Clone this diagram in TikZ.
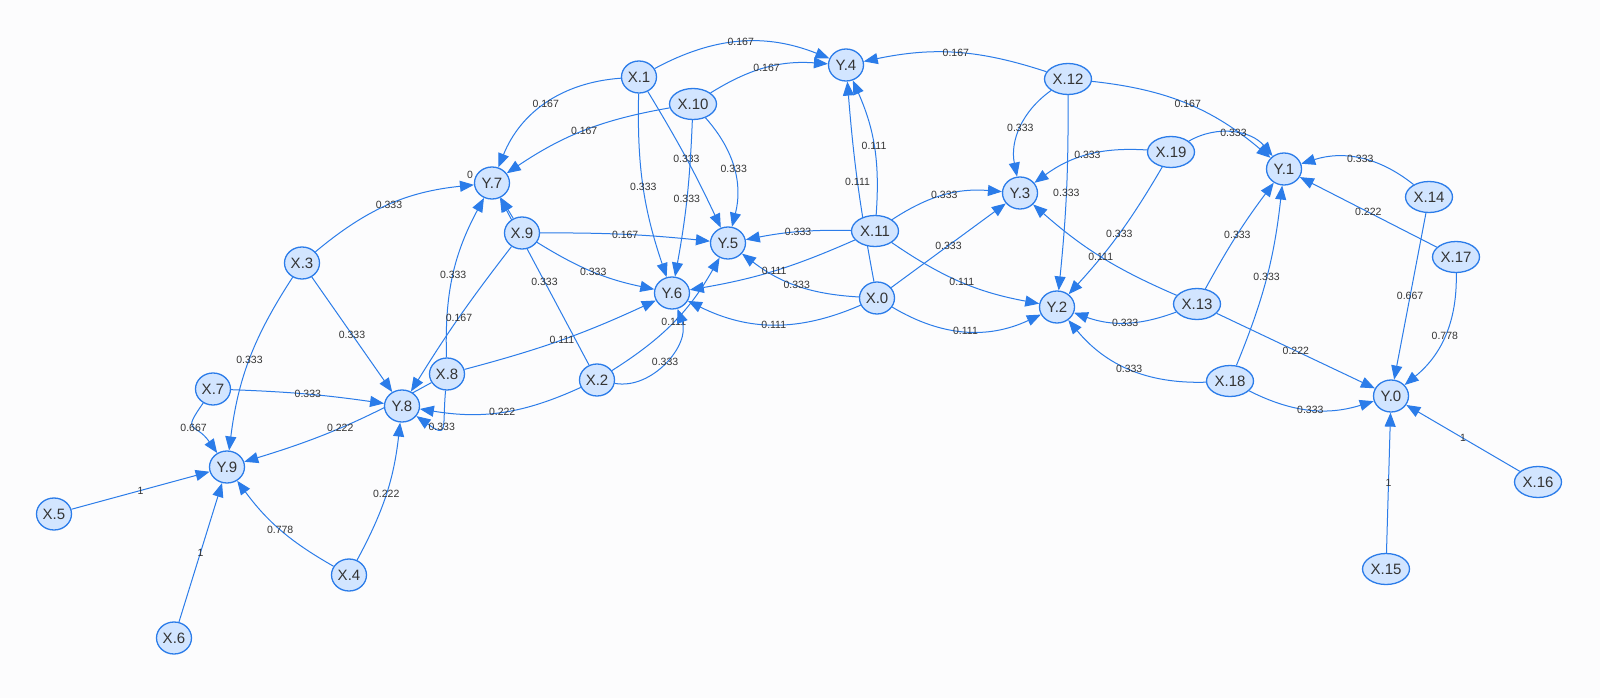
\documentclass[tikz,border=0pt]{standalone}
\usepackage{fontspec}
\setmainfont{Liberation Sans}
\usetikzlibrary{shapes.geometric,arrows.meta}
\pgfdeclarelayer{bg}
\pgfsetlayers{bg,main}
\definecolor{nodefill}{RGB}{210,229,255}
\definecolor{nodeborder}{RGB}{43,124,233}
\definecolor{edgecol}{RGB}{43,124,233}
\definecolor{labcol}{RGB}{52,52,52}
\definecolor{bgcol}{RGB}{252,252,253}
\tikzset{
  nd/.style={ellipse, draw=nodeborder, fill=nodefill, line width=1.3pt, inner sep=0pt,
    minimum width=35pt, minimum height=32pt, font=\fontsize{15}{18}\selectfont, text=labcol},
  ndw/.style={nd, minimum width=47pt, minimum height=31pt},
  edge/.style={draw=edgecol, line width=1pt, -{Triangle[length=14pt,width=11pt]}},
  lab/.style={font=\fontsize{10.5}{12}\selectfont, text=labcol, inner sep=0.5pt}
}
\begin{document}
\begin{tikzpicture}[x=1pt,y=-1pt]
\begin{pgfonlayer}{bg}
\fill[bgcol] (0,0) rectangle (1600,698);
\end{pgfonlayer}
\useasboundingbox (0,0) rectangle (1600,698);
% X nodes
\node[nd]  (X0)  at (877,298) {X.0};
\node[nd]  (X1)  at (639,77)  {X.1};
\node[nd]  (X2)  at (597,380) {X.2};
\node[nd]  (X3)  at (302,263) {X.3};
\node[nd]  (X4)  at (349,575) {X.4};
\node[nd]  (X5)  at (54,514)  {X.5};
\node[nd]  (X6)  at (174,638) {X.6};
\node[nd]  (X7)  at (213,389) {X.7};
\node[nd]  (X8)  at (447,374) {X.8};
\node[nd]  (X9)  at (522,233) {X.9};
\node[ndw] (X10) at (693,104) {X.10};
\node[ndw] (X11) at (875,231) {X.11};
\node[ndw] (X12) at (1068,79) {X.12};
\node[ndw] (X13) at (1197,304) {X.13};
\node[ndw] (X14) at (1429,197) {X.14};
\node[ndw] (X15) at (1386,569) {X.15};
\node[ndw] (X16) at (1538,482) {X.16};
\node[ndw] (X17) at (1456,257) {X.17};
\node[ndw] (X18) at (1230,381) {X.18};
\node[ndw] (X19) at (1171,152) {X.19};
% Y nodes
\node[nd] (Y0) at (1391,396) {Y.0};
\node[nd] (Y1) at (1284,169) {Y.1};
\node[nd] (Y2) at (1057,307) {Y.2};
\node[nd] (Y3) at (1020,193) {Y.3};
\node[nd] (Y4) at (846,65)   {Y.4};
\node[nd] (Y5) at (728,243)  {Y.5};
\node[nd] (Y6) at (672,293)  {Y.6};
\node[nd] (Y7) at (492,183)  {Y.7};
\node[nd] (Y8) at (402,406)  {Y.8};
\node[nd] (Y9) at (227,467)  {Y.9};
\begin{pgfonlayer}{bg}
% Y.0
\draw[edge] (X13) to node[lab]{0.222} (Y0);
\draw[edge] (X18) to[bend right=22] node[lab]{0.333} (Y0);
\draw[edge] (X14) to node[lab]{0.667} (Y0);
\draw[edge] (X17) to[bend left=26] node[lab]{0.778} (Y0);
\draw[edge] (X15) to node[lab]{1} (Y0);
\draw[edge] (X16) to node[lab]{1} (Y0);
% Y.1
\draw[edge] (X12) to[bend left=17] node[lab]{0.167} (Y1);
\draw[edge] (X19) to[bend left=40] node[lab]{0.333} (Y1);
\draw[edge] (X14) to[bend right=28] node[lab]{0.333} (Y1);
\draw[edge] (X17) to node[lab]{0.222} (Y1);
\draw[edge] (X13) to[bend left=4] node[lab]{0.333} (Y1);
\draw[edge] (X18) to[bend right=8] node[lab]{0.333} (Y1);
% Y.2
\draw[edge] (X11) to[bend right=12] node[lab]{0.111} (Y2);
\draw[edge] (X0) to[bend right=28] node[lab]{0.111} (Y2);
\draw[edge] (X12) to[bend left=3] node[lab]{0.333} (Y2);
\draw[edge] (X19) to[bend left=6] node[lab]{0.333} (Y2);
\draw[edge] (X13) to[bend left=20] node[lab]{0.333} (Y2);
\draw[edge] (X18) to[bend left=26] node[lab]{0.333} (Y2);
% Y.3
\draw[edge] (X11) to[bend left=19] node[lab]{0.333} (Y3);
\draw[edge] (X0) to node[lab]{0.333} (Y3);
\draw[edge] (X12) to[bend right=33] node[lab]{0.333} (Y3);
\draw[edge] (X19) to[bend right=20] node[lab]{0.333} (Y3);
\draw[edge] (X13) to[bend left=9] node[lab]{0.111} (Y3);
% Y.4
\draw[edge] (X1) to[bend left=25] node[lab]{0.167} (Y4);
\draw[edge] (X10) to[bend left=18] node[lab]{0.167} (Y4);
\draw[edge] (X12) to[bend right=15] node[lab]{0.167} (Y4);
\draw[edge] (X11) to[bend right=14] node[lab]{0.111} (Y4);
\draw[edge] (X0) to[bend left=3] node[lab]{0.111} (Y4);
% Y.5
\draw[edge] (X1) to[bend left=3] node[lab]{0.333} (Y5);
\draw[edge] (X10) to[bend left=28] node[lab]{0.333} (Y5);
\draw[edge] (X9) to[bend left=3] node[lab]{0.167} (Y5);
\draw[edge] (X11) to[bend right=6] node[lab]{0.333} (Y5);
\draw[edge] (X0) to[bend left=17] node[lab]{0.333} (Y5);
\draw[edge] (X2) to[bend right=14] node[lab]{0.111} (Y5);
% Y.6
\draw[edge] (X1) to[bend right=10] node[lab]{0.333} (Y6);
\draw[edge] (X10) to[bend left=4] node[lab]{0.333} (Y6);
\draw[edge] (X9) to[bend right=10] node[lab]{0.333} (Y6);
\draw[edge] (X8) to[bend right=5] node[lab]{0.111} (Y6);
\draw[edge] (X11) to[bend left=7] node[lab]{0.111} (Y6);
\draw[edge] (X0) to[bend left=25] node[lab]{0.111} (Y6);
\draw[edge] (X2) to[bend right=60] node[lab]{0.333} (Y6);
% Y.7
\draw[edge] (X1) to[bend right=32] node[lab]{0.167} (Y7);
\draw[edge] (X10) to[bend right=12] node[lab]{0.167} (Y7);
\draw[edge] (X3) to[bend left=17] node[lab]{0.333} (Y7);
\draw[edge] (X9) to node[lab, xshift=-37pt, yshift=33pt]{0} (Y7);
\draw[edge] (X2) to node[lab]{0.333} (Y7);
\draw[edge] (X8) to[bend left=15] node[lab]{0.333} (Y7);
% Y.8
\draw[edge] (X9) to[bend right=3] node[lab]{0.167} (Y8);
\draw[edge] (X3) to node[lab]{0.333} (Y8);
\draw[edge] (X7) to[bend left=3] node[lab]{0.333} (Y8);
\draw[edge] (X8) to[out=-95, in=-35, looseness=2.6] node[lab]{0.333} (Y8);
\draw[edge] (X4) to[bend right=11] node[lab]{0.222} (Y8);
\draw[edge] (X2) to[bend left=17] node[lab]{0.222} (Y8);
% Y.9
\draw[edge] (X3) to[bend right=13] node[lab]{0.333} (Y9);
\draw[edge] (X7) to[out=235, in=125, looseness=1.9] node[lab]{0.667} (Y9);
\draw[edge] (X8) to[bend left=6] node[lab]{0.222} (Y9);
\draw[edge] (X5) to node[lab]{1} (Y9);
\draw[edge] (X6) to node[lab]{1} (Y9);
\draw[edge] (X4) to[bend left=12] node[lab]{0.778} (Y9);
\end{pgfonlayer}
\end{tikzpicture}
\end{document}
